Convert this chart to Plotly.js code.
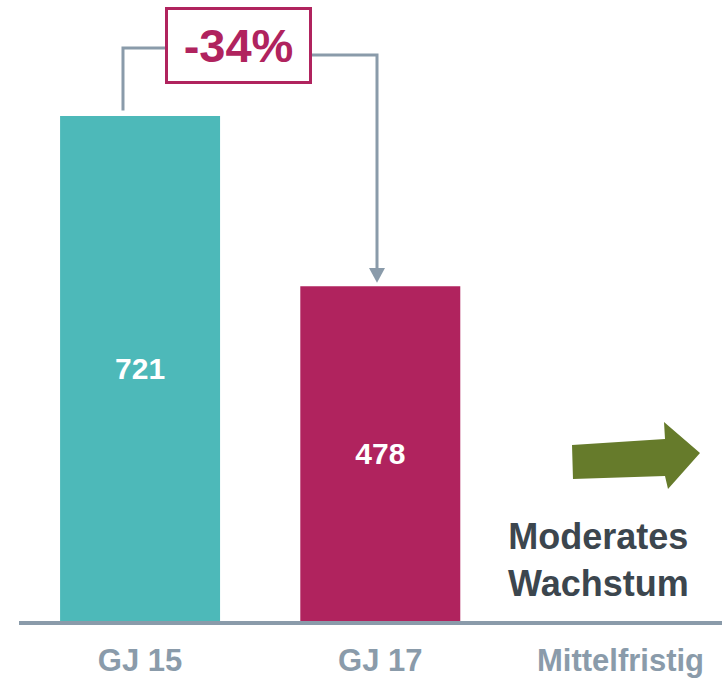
<!DOCTYPE html>
<html>
<head>
<meta charset="utf-8">
<script src="https://cdn.plot.ly/plotly-3.0.1.min.js"></script>
<style>
html,body{margin:0;padding:0;background:#fff;}
#chart{width:722px;height:679px;}
</style>
</head>
<body>
<div id="chart"></div>
<script>
// ---- data ----
const categories = ["GJ 15", "GJ 17", "Mittelfristig"];
const values = [721, 478, null];
const barLabels = ["721", "478", ""];
const changeLabel = "-34%";
const outlookLabel = "Moderates<br>Wachstum";

// ---- style ----
const teal = "#4DB9B9";
const magenta = "#B0235E";
const grey = "#8A9BAA";
const green = "#667B2B";
const dark = "#3C464E";
const font = "Liberation Sans, Arial, sans-serif";

// layout geometry (pixel -> data helpers for decorations)
const W = 722, H = 679;
const mL = 19, mR = 0, mT = 0, mB = 58;
const xRange = [-0.504, 2.4225];
const yRange = [0, 886.6];
const plotW = W - mL - mR, plotH = H - mT - mB;
const px2x = p => xRange[0] + (p - mL) / plotW * (xRange[1] - xRange[0]);
const py2y = p => yRange[1] - (p - mT) / plotH * (yRange[1] - yRange[0]);

// connector geometry derived from data values
const leftX = px2x(123);
const rightX = px2x(377);
const leftTop = py2y(48);
const rightTop = py2y(55);
const leftStart = values[0] + 8;     // just above GJ 15 bar
const arrowTip = values[1] + 5;      // just above GJ 17 bar
const headLen = 21;                  // in data units
const headHalf = px2x(385) - rightX;
const boxL = px2x(165), boxR = px2x(312);

const trace = {
  type: "bar",
  x: categories,
  y: values,
  width: 0.666,
  marker: {color: [teal, magenta, "rgba(0,0,0,0)"], line: {width: 0}},
  text: barLabels,
  textposition: "inside",
  insidetextanchor: "middle",
  textangle: 0,
  textfont: {family: font, size: 30, color: "#ffffff", weight: "bold"},
  hoverinfo: "skip",
  cliponaxis: false
};

const P = (x, y) => x.toFixed(4) + "," + y.toFixed(2);

const shapes = [
  // left connector
  {type: "path", xref: "x", yref: "y", layer: "above",
   path: "M" + P(leftX, leftStart) + " L" + P(leftX, leftTop) + " L" + P(boxL, leftTop),
   line: {color: grey, width: 3}},
  // right connector
  {type: "path", xref: "x", yref: "y", layer: "above",
   path: "M" + P(boxR, rightTop) + " L" + P(rightX, rightTop) + " L" + P(rightX, arrowTip + headLen),
   line: {color: grey, width: 3}},
  // arrow head
  {type: "path", xref: "x", yref: "y", layer: "above",
   path: "M" + P(rightX - headHalf, arrowTip + headLen) + " L" + P(rightX + headHalf, arrowTip + headLen) + " L" + P(rightX, arrowTip) + " Z",
   fillcolor: grey, line: {width: 0}},
  // green arrow
  {type: "path", xref: "x", yref: "y", layer: "above",
   path: "M" + P(px2x(572), py2y(445)) +
         " L" + P(px2x(665), py2y(439)) +
         " L" + P(px2x(664), py2y(422)) +
         " L" + P(px2x(700), py2y(453)) +
         " L" + P(px2x(668), py2y(489)) +
         " L" + P(px2x(665), py2y(476)) +
         " L" + P(px2x(573), py2y(479)) + " Z",
   fillcolor: green, line: {width: 0}}
];

const annotations = [
  {xref: "x", yref: "y", x: px2x(238.5), y: py2y(45.5),
   text: "<b>" + changeLabel + "</b>", showarrow: false,
   font: {family: font, size: 47, color: magenta},
   bgcolor: "#ffffff", bordercolor: magenta, borderwidth: 3, borderpad: 0,
   width: 141, height: 71, xanchor: "center", yanchor: "middle"},
  {xref: "x", yref: "y", x: px2x(598), y: py2y(560),
   text: "<b>" + outlookLabel + "</b>", showarrow: false,
   font: {family: font, size: 36, color: dark}, align: "center",
   xanchor: "center", yanchor: "middle"}
];

const layout = {
  width: W, height: H,
  margin: {l: mL, r: mR, t: mT, b: mB, pad: 0},
  paper_bgcolor: "#ffffff", plot_bgcolor: "#ffffff",
  showlegend: false,
  xaxis: {
    type: "category", range: xRange, fixedrange: true,
    showgrid: false, zeroline: false,
    showline: true, linecolor: grey, linewidth: 4,
    ticks: "", ticklabelstandoff: 9,
    tickfont: {family: font, size: 31, color: grey, weight: "bold"}
  },
  yaxis: {
    range: yRange, fixedrange: true, visible: false,
    showgrid: false, zeroline: false
  },
  shapes: shapes,
  annotations: annotations
};

Plotly.newPlot("chart", [trace], layout, {displayModeBar: false, staticPlot: true});
</script>
</body>
</html>
